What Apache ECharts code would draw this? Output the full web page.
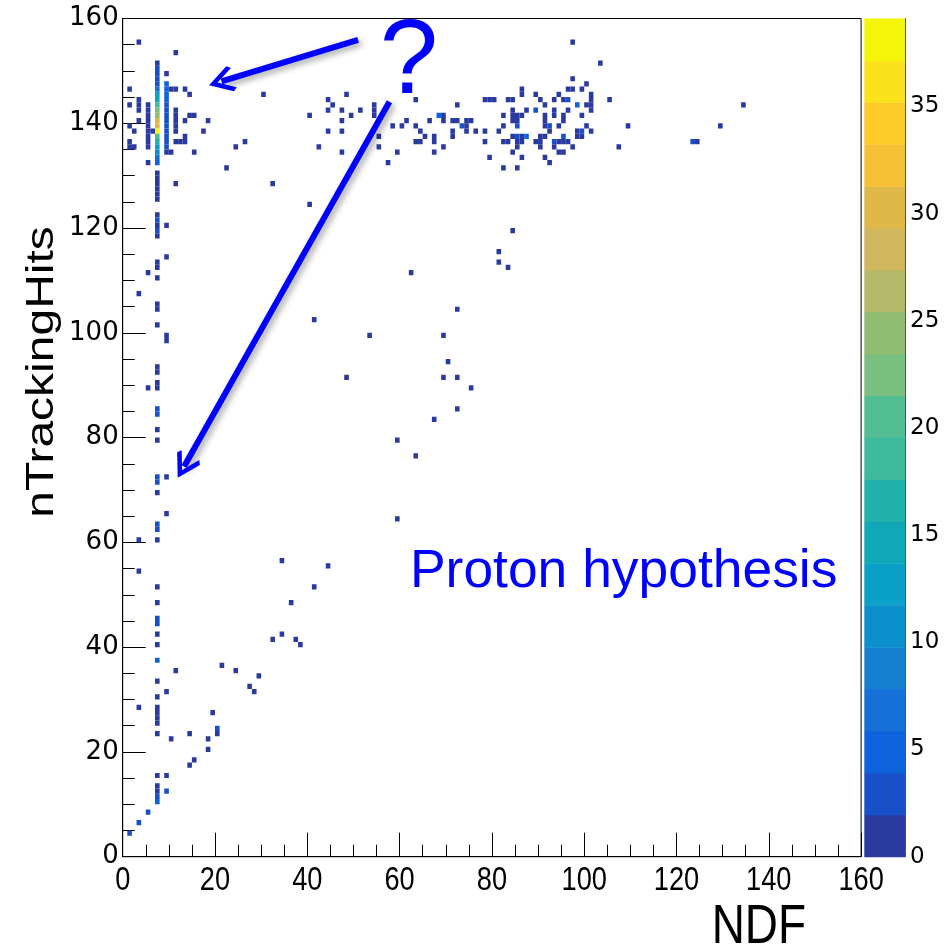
<!DOCTYPE html>
<html><head><meta charset="utf-8">
<script src="https://cdn.jsdelivr.net/npm/echarts@6/dist/echarts.min.js"></script>
<style>html,body{margin:0;padding:0;background:#fff}#c{width:947px;height:948px}</style>
</head><body><div id="c"></div>
<script>
// ---- axis ticks ----
const xTickLabels = [0, 20, 40, 60, 80, 100, 120, 140, 160];
const yTickLabels = [0, 20, 40, 60, 80, 100, 120, 140, 160];
const zTickLabels = [0, 5, 10, 15, 20, 25, 30, 35];
const zMax = 39.1;
// palette bands (bottom -> top), 20 contours
const paletteColors = ['#2a3a9f','#1750c8','#0e62dc','#1470d6','#1580d0','#0c90cc','#0aa0c8','#10a8b8','#22b2ac','#3dbb9c',
  '#50bd92','#78bf80','#90bd72','#b3bb6a','#d0b65c','#e0b84a','#f4c035','#fccb28','#fce21c','#f5f50a'];

// ---- histogram bins: [NDF bin, nTrackingHits bin, entries] ----
const columnNDF7 = [[7,151,1],[7,150,2],[7,149,2],[7,148,2],[7,147,3],[7,146,6],[7,145,12],[7,144,14],[7,143,18],[7,142,22],
  [7,141,25],[7,140,31],[7,139,30],[7,138,39],[7,137,20],[7,136,16],[7,135,13],[7,134,11],[7,133,7],[7,132,4],
  [7,130,1],[7,129,1],[7,128,1],[7,127,1],[7,126,1],[7,125,1],[7,122,1],[7,121,2],[7,120,1],[7,119,3],[7,118,1],
  [7,113,1],[7,112,1],[7,110,1],[7,105,1],[7,104,1],[7,101,1],[7,93,1],[7,92,1],[7,90,1],[7,89,1],[7,85,3],[7,84,2],
  [7,81,1],[7,79,1],[7,72,3],[7,71,3],[7,69,1],[7,63,3],[7,62,3],[7,60,1],[7,51,1],[7,48,1],[7,45,3],[7,44,2],[7,42,1],
  [7,40,1],[7,37,4],[7,33,1],[7,30,1],[7,28,1],[7,27,1],[7,26,1],[7,25,1],[7,23,1],[7,15,1],[7,13,1],[7,12,1],[7,11,2],[7,10,5]];
const columnNDF9 = [[9,149,1],[9,147,5],[9,146,5],[9,145,4],[9,144,4],[9,143,3],[9,142,3],[9,141,3],[9,140,3],[9,139,3],
  [9,138,3],[9,137,2],[9,136,2],[9,135,2],[9,134,1],[9,120,1],[9,114,1],[9,99,1],[9,98,1],[9,72,1],[9,65,1],[9,31,1],[9,15,1],[9,12,3]];
const clusterLowNDF = [[3,155,1],[11,153,1],[1,146,1],[10,146,1],[11,146,1],[13,146,1],[14,145,1],[3,144,1],[3,143,1],[3,142,1],
  [1,143,1],[5,143,1],[5,142,1],[5,141,1],[5,140,1],[5,139,1],[5,138,1],[5,137,1],[5,136,1],[5,135,1],[6,138,1],[3,140,1],
  [1,139,1],[2,138,1],[11,142,1],[11,141,1],[11,140,1],[11,139,1],[11,138,1],[14,141,1],[15,141,1],[13,140,1],[18,140,1],
  [17,138,1],[11,136,1],[12,136,1],[13,136,1],[13,137,1],[1,136,1],[1,135,1],[2,135,1],[10,134,1],[15,134,1],[5,132,1],
  [11,128,1],[24,135,1],[26,136,1],[22,131,1],[30,145,1],[32,128,1]];
const clusterMidNDF = [[48,145,1],[44,144,1],[45,143,1],[44,142,1],[47,142,1],[51,142,1],[40,141,1],[49,141,1],[54,143,1],
  [54,142,1],[54,141,1],[47,140,1],[44,138,1],[47,138,1],[42,135,1],[47,134,1],[55,137,1],[55,135,1],[57,132,1],[59,134,1],
  [63,144,1],[58,139,1],[60,139,1],[61,140,1],[63,139,1],[64,138,1],[65,137,1],[63,136,1],[64,136,1],[67,137,1],[67,136,1],
  [66,140,1],[68,141,4],[69,141,1],[69,140,1],[67,134,1],[69,135,1],[71,140,1],[72,140,1],[73,139,3],[74,140,1],[74,139,1],
  [71,138,1],[71,137,1],[72,143,1],[75,140,1],[74,138,1],[76,138,1]];
const clusterHighNDF = [[97,155,1],[103,151,1],[97,148,1],[100,147,1],[96,146,1],[97,146,1],[99,146,1],[86,146,1],[86,145,1],
  [89,145,1],[94,145,1],[101,145,1],[101,144,1],[101,143,1],[101,142,1],[78,144,1],[79,144,1],[80,144,1],[83,144,1],[84,144,1],
  [90,144,1],[93,144,1],[95,144,1],[96,144,3],[105,144,1],[91,143,1],[98,143,4],[100,143,1],[134,143,1],[84,142,1],[84,141,1],
  [84,140,1],[85,141,1],[86,141,1],[87,142,1],[89,142,3],[93,142,1],[93,141,1],[96,142,1],[95,141,1],[95,140,1],[91,141,1],
  [91,140,1],[91,139,1],[92,139,3],[92,138,1],[82,141,1],[99,141,1],[82,139,1],[85,140,1],[85,139,3],[94,139,1],[100,139,1],
  [109,139,1],[129,139,1],[78,138,1],[81,138,1],[84,137,1],[85,137,3],[86,137,1],[87,137,4],[90,137,1],[91,137,1],[95,137,3],
  [98,138,1],[99,138,3],[98,137,1],[99,137,1],[101,138,1],[78,136,1],[82,136,1],[83,136,1],[85,136,1],[86,136,1],[85,135,1],
  [89,136,1],[90,136,1],[90,135,1],[93,136,3],[94,136,1],[95,136,1],[96,136,1],[93,135,1],[97,135,1],[94,134,1],[95,134,1],
  [84,134,1],[107,135,1],[123,136,3],[124,136,1],[79,133,1],[86,133,1],[91,133,1],[92,132,1],[82,131,1],[85,131,1]];
const scatterMid = [[40,124,1],[62,111,1],[81,115,1],[81,113,1],[83,112,1],[84,119,1],[72,104,1],[41,102,1],[53,99,1],[69,99,1],
  [70,94,1],[48,91,1],[69,91,1],[72,91,1],[75,89,1],[72,85,1],[67,83,1],[59,79,1],[63,76,1],[59,64,1]];
const scatterLow = [[3,107,1],[3,60,1],[3,54,1],[3,28,1],[3,6,3],[5,111,1],[5,89,1],[5,8,3],[1,4,3],[11,35,1],[21,36,1],
  [24,35,1],[29,34,1],[27,32,1],[28,31,1],[19,27,1],[20,24,3],[20,23,1],[10,22,1],[14,23,1],[18,22,1],[18,20,1],[15,18,1],
  [14,17,1],[34,56,1],[36,48,1],[32,41,1],[34,42,1],[37,41,1],[38,40,1],[44,55,1],[41,51,1]];

// annotation arrows in data coordinates: [tail, head]
const arrowTop = [[51.0, 155.9], [21.4, 148.0]];
const arrowDown = [[57.8, 144.1], [13.3, 74.5]];

const bins = [].concat(columnNDF7, columnNDF9, clusterLowNDF, clusterMidNDF, clusterHighNDF, scatterMid, scatterLow);
const bandWidth = zMax / paletteColors.length;
function colorFor(v) {
  let i = Math.floor(v / bandWidth);
  if (i > paletteColors.length - 1) i = paletteColors.length - 1;
  if (i < 0) i = 0;
  return paletteColors[i];
}

const chart = echarts.init(document.getElementById('c'), null, {renderer: 'canvas'});
const G = {left: 122.7, top: 18.5, width: 738.4, height: 838.2};
const chevron = 'path://M20,0 L40,22 L35.5,26 L20,9 L4.5,26 L0,22 Z';

chart.setOption({
  animation: false,
  backgroundColor: '#ffffff',
  grid: [
    {left: G.left, top: G.top, width: G.width, height: G.height, show: true, borderColor: '#000', borderWidth: 1, backgroundColor: 'transparent'},
    {left: 864.3, top: G.top, width: 40.7, height: G.height, show: false}
  ],
  xAxis: [
    {type: 'value', gridIndex: 0, min: 0, max: 160, interval: 20,
      axisLine: {show: true, onZero: false, lineStyle: {color: '#000', width: 1}},
      axisTick: {show: true, inside: true, length: 24, lineStyle: {color: '#000', width: 1}},
      minorTick: {show: true, splitNumber: 4, length: 12, lineStyle: {color: '#000', width: 1}},
      splitLine: {show: false},
      axisLabel: {show: false}},
    {type: 'value', gridIndex: 1, min: 0, max: 1, show: false}
  ],
  yAxis: [
    {type: 'value', gridIndex: 0, min: 0, max: 160, interval: 20,
      axisLine: {show: true, onZero: false, lineStyle: {color: '#000', width: 1}},
      axisTick: {show: true, inside: true, length: 23, lineStyle: {color: '#000', width: 1}},
      minorTick: {show: true, splitNumber: 4, length: 12, lineStyle: {color: '#000', width: 1}},
      splitLine: {show: false},
      axisLabel: {show: true, margin: 4, color: '#000', fontFamily: 'DejaVu Sans', fontSize: 26,
        customValues: yTickLabels, formatter: v => String(v)}},
    {type: 'value', gridIndex: 1, position: 'right', min: 0, max: zMax, interval: 5,
      axisLine: {show: true, onZero: false, lineStyle: {color: '#555', width: 1}},
      axisTick: {show: true, inside: true, length: 21, customValues: zTickLabels, lineStyle: {color: '#000', width: 1}},
      splitLine: {show: false},
      axisLabel: {show: true, margin: 5, color: '#000', fontFamily: 'DejaVu Sans', fontSize: 23,
        customValues: zTickLabels, formatter: v => String(v)}}
  ],
  series: [
    {type: 'custom', xAxisIndex: 0, yAxisIndex: 0, clip: true,
      data: bins, encode: {x: 0, y: 1},
      renderItem: function (params, api) {
        const x = api.value(0), y = api.value(1), v = api.value(2);
        const p0 = api.coord([x, y + 1]);
        const p1 = api.coord([x + 1, y]);
        return {type: 'rect', shape: {x: p0[0], y: p0[1], width: p1[0] - p0[0], height: p1[1] - p0[1]},
          style: {fill: colorFor(v)}};
      }},
    {type: 'custom', xAxisIndex: 1, yAxisIndex: 1,
      data: paletteColors.map((c, i) => [i]),
      renderItem: function (params, api) {
        const i = api.value(0);
        const p0 = api.coord([0, (i + 1) * bandWidth]);
        const p1 = api.coord([1, i * bandWidth]);
        return {type: 'rect', shape: {x: p0[0], y: p0[1], width: p1[0] - p0[0], height: p1[1] - p0[1] + 0.5},
          style: {fill: paletteColors[i]}};
      }},
    {type: 'lines', coordinateSystem: 'cartesian2d', xAxisIndex: 0, yAxisIndex: 0, z: 10,
      symbol: ['none', chevron], symbolSize: [36, 26],
      lineStyle: {color: '#0000ff', width: 6, opacity: 1, curveness: 0,
        shadowBlur: 6, shadowColor: 'rgba(0,0,0,0.35)', shadowOffsetX: 3, shadowOffsetY: 3},
      data: [{coords: arrowTop}, {coords: arrowDown}]}
  ]
});

// titles, annotations and narrow x tick labels (x labels placed through the axis scale)
const graphics = [
  {type: 'text', x: 42, y: 372, rotation: Math.PI / 2, scaleY: 0.82,
    style: {text: 'nTrackingHits', font: '48px "Liberation Sans"', fill: '#000', align: 'center', verticalAlign: 'middle'}},
  {type: 'text', x: 806, y: 928, scaleX: 0.82,
    style: {text: 'NDF', font: '56px "Liberation Sans"', fill: '#000', align: 'right', verticalAlign: 'middle'}},
  {type: 'text', x: 410, y: 572,
    style: {text: 'Proton hypothesis', font: '53.4px "Liberation Sans"', fill: '#0000ff', align: 'left', verticalAlign: 'middle'}},
  {type: 'text', x: 409, y: 64,
    style: {text: '?', font: '105px "Liberation Sans"', fill: '#0000ff', align: 'center', verticalAlign: 'middle'}}
].concat(xTickLabels.map(function (v) {
  const p = chart.convertToPixel({xAxisIndex: 0, yAxisIndex: 0}, [v, 0]);
  return {type: 'text', x: p[0], y: p[1] + 24, scaleX: 0.8, silent: true,
    style: {text: String(v), font: '34px "Liberation Sans"', fill: '#000', align: 'center', verticalAlign: 'middle'}};
}));
chart.setOption({graphic: graphics});
</script>
</body></html>
